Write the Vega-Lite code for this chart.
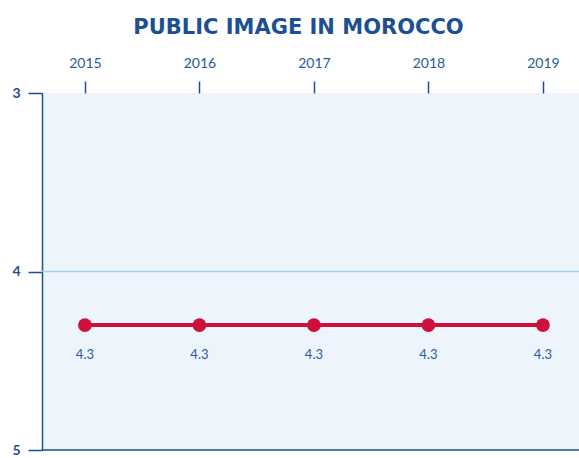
{
  "$schema": "https://vega.github.io/schema/vega-lite/v6.json",
  "autosize": "none",
  "width": 537,
  "height": 357,
  "padding": {"left": 42, "top": 93, "right": 0, "bottom": 8},
  "background": "white",
  "view": {"fill": "#eef4fc", "stroke": null},
  "title": {
    "text": "PUBLIC IMAGE IN MOROCCO",
    "font": "DejaVu Sans",
    "fontWeight": "bold",
    "fontSize": 21,
    "color": "#1c4f94",
    "anchor": "middle",
    "dx": -12,
    "offset": 18
  },
  "datasets": {
    "main": [
      {"year": 2015, "value": 4.3},
      {"year": 2016, "value": 4.3},
      {"year": 2017, "value": 4.3},
      {"year": 2018, "value": 4.3},
      {"year": 2019, "value": 4.3}
    ],
    "refs": [
      {"y": 4, "kind": "grid"},
      {"y": 5, "kind": "base"}
    ]
  },
  "layer": [
    {
      "data": {"name": "refs"},
      "mark": {"type": "rule", "strokeWidth": 1.5},
      "encoding": {
        "y": {
          "field": "y", "type": "quantitative",
          "scale": {"domain": [3, 5], "reverse": true, "nice": false, "zero": false},
          "axis": {
            "values": [3, 4, 5], "labelExpr": "datum.value", "labelOverlap": false, "grid": false,
            "domainColor": "#1c4f94", "domainWidth": 1.5,
            "tickColor": "#1c4f94", "tickSize": 14, "tickWidth": 1.5,
            "labelColor": "#1c4f94", "labelFont": "Lato", "labelFontWeight": "bold", "labelFontSize": 14,
            "labelPadding": 8, "title": null
          }
        },
        "color": {"field": "kind", "type": "nominal", "scale": {"domain": ["grid", "base"], "range": ["#a9cdee", "#1c4f94"]}, "legend": null}
      }
    },
    {
      "data": {"name": "main"},
      "mark": {"type": "line", "color": "#cf0f3c", "strokeWidth": 4},
      "encoding": {
        "x": {
          "field": "year", "type": "quantitative",
          "scale": {"domain": [2014.625, 2019.315], "nice": false, "zero": false},
          "axis": {
            "orient": "top", "values": [2015, 2016, 2017, 2018, 2019], "format": "d",
            "domain": false, "grid": false, "tickColor": "#1c4f94", "tickSize": 12, "tickWidth": 1.5,
            "labelColor": "#2a5b9c", "labelFont": "Lato", "labelFontSize": 14, "labelPadding": 11,
            "title": null
          }
        },
        "y": {"field": "value", "type": "quantitative"}
      }
    },
    {
      "data": {"name": "main"},
      "mark": {"type": "point", "filled": true, "opacity": 1, "color": "#cf0f3c", "size": 190},
      "encoding": {
        "x": {"field": "year", "type": "quantitative"},
        "y": {"field": "value", "type": "quantitative"}
      }
    },
    {
      "data": {"name": "main"},
      "mark": {"type": "text", "dy": 30, "font": "Lato", "fontSize": 13, "color": "#2a5b9c"},
      "encoding": {
        "x": {"field": "year", "type": "quantitative"},
        "y": {"field": "value", "type": "quantitative"},
        "text": {"field": "value", "type": "quantitative", "format": ".1f"}
      }
    }
  ]
}
